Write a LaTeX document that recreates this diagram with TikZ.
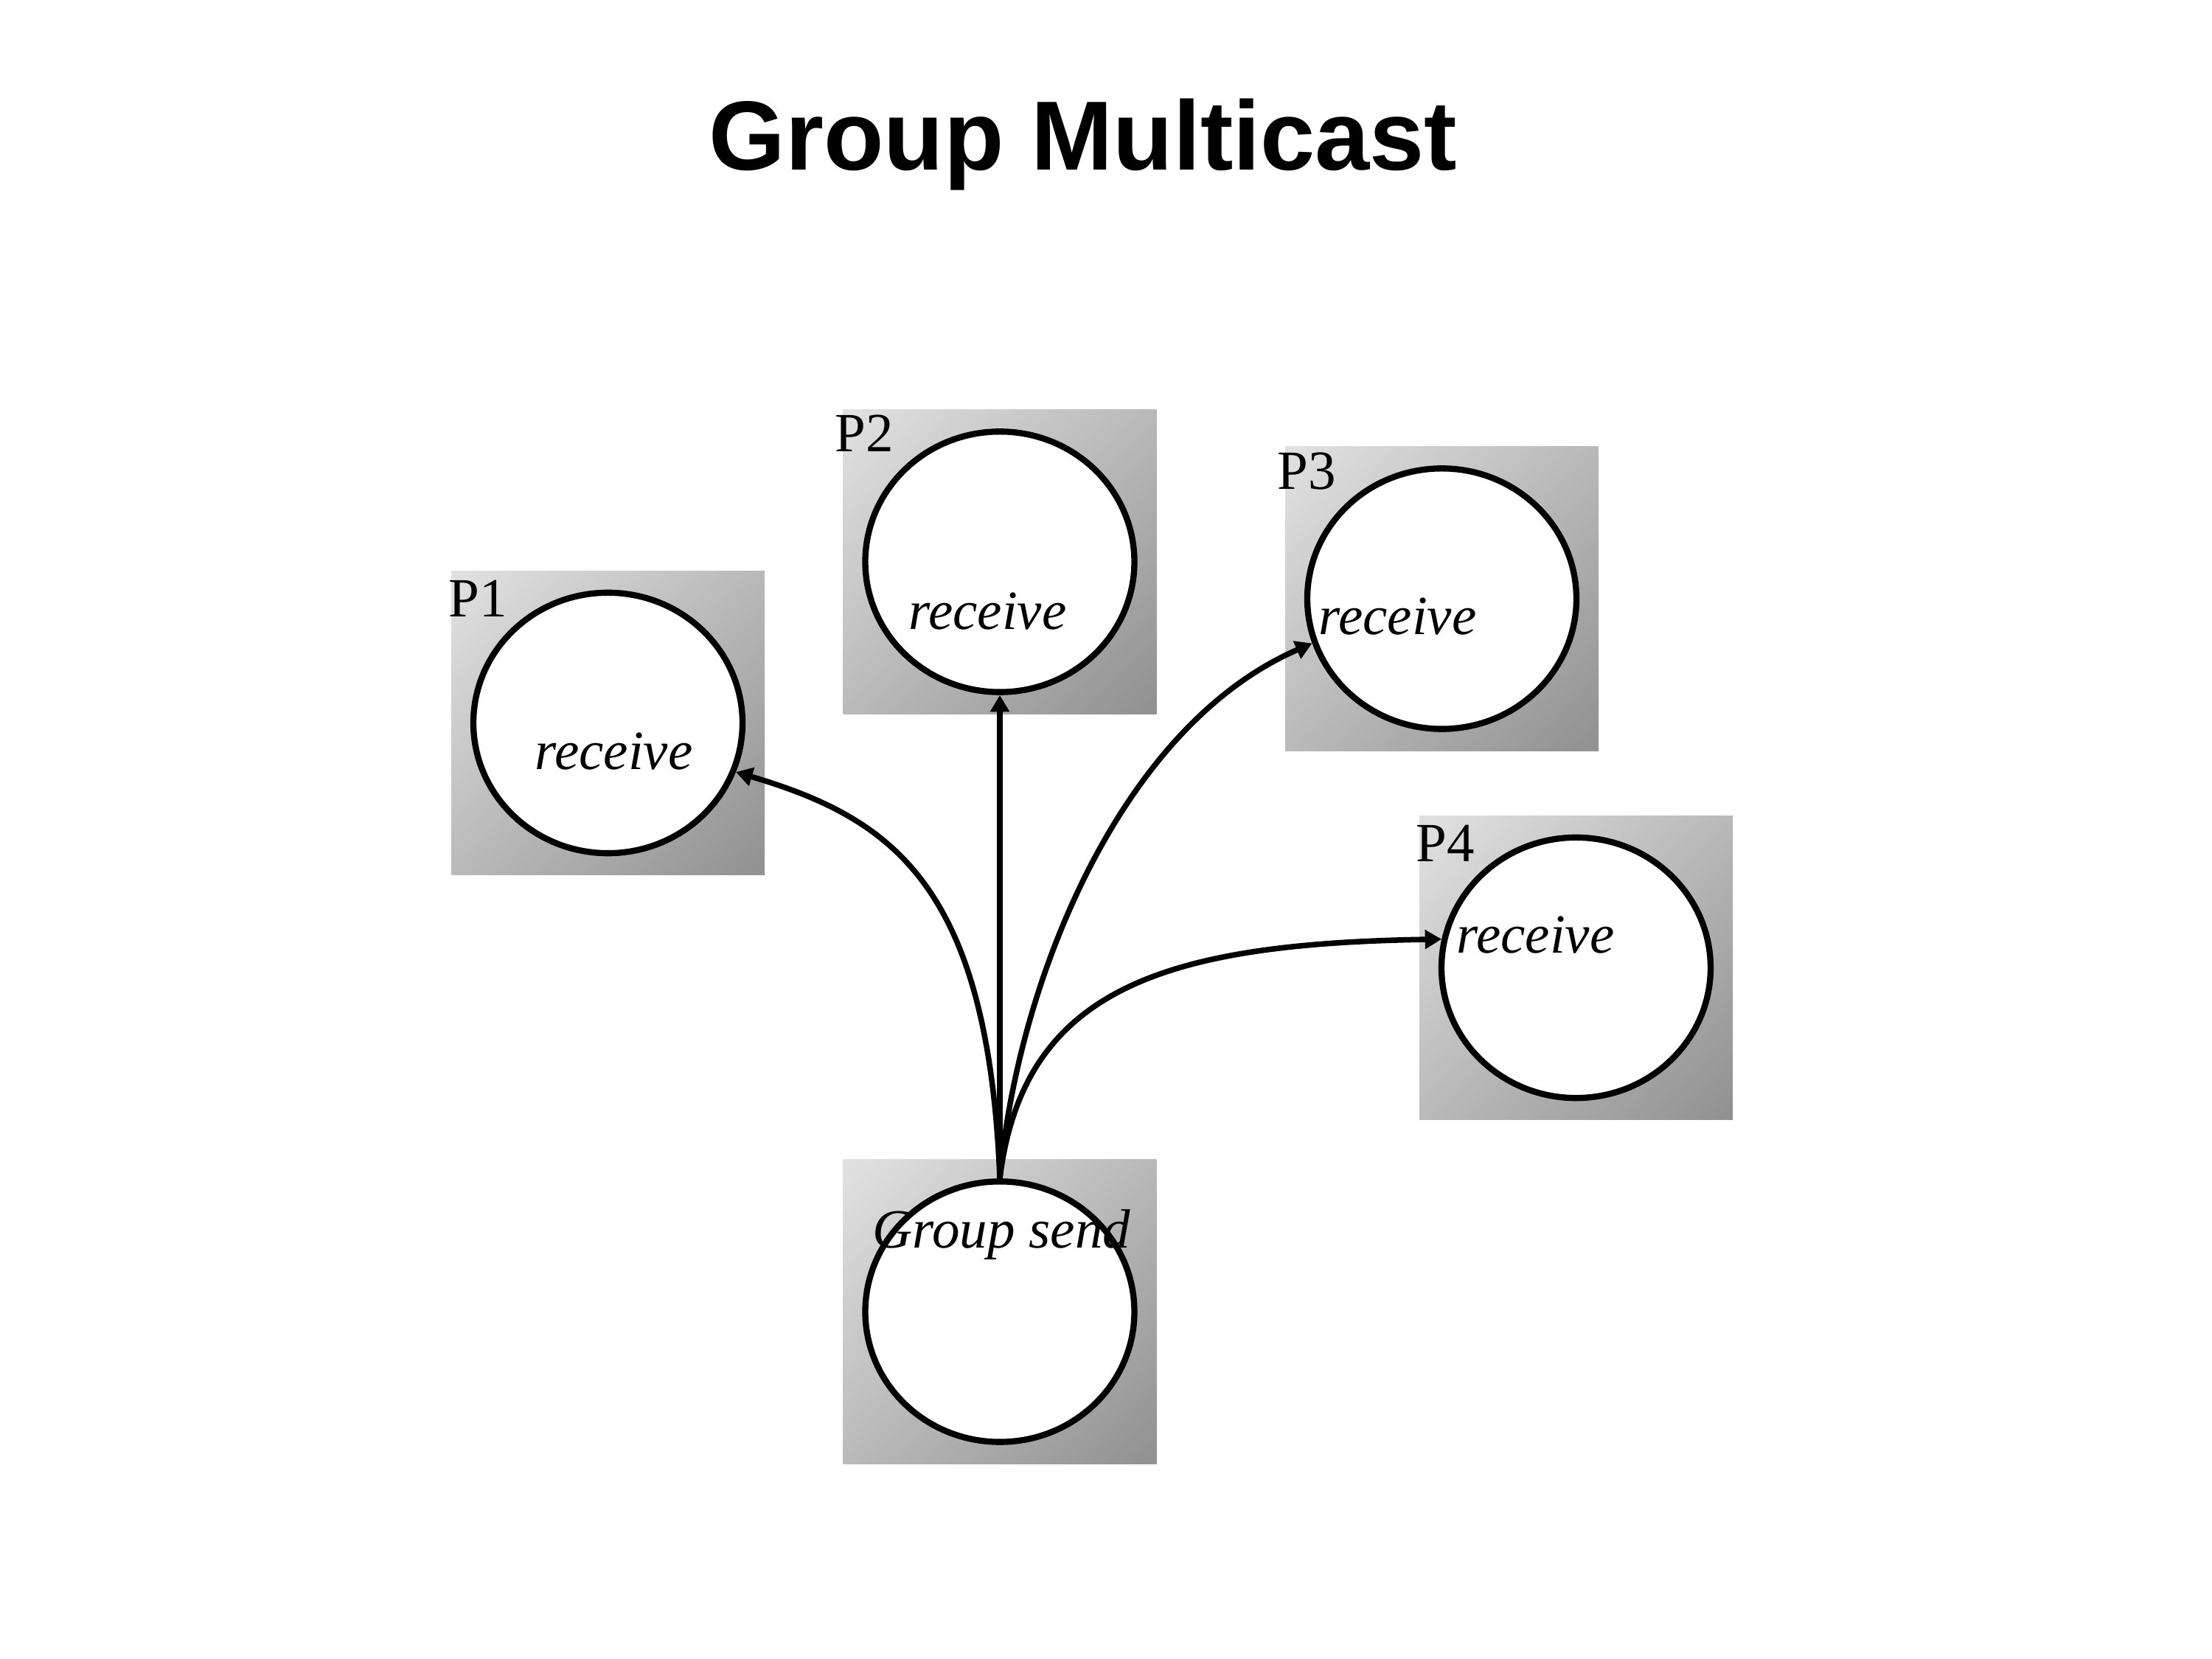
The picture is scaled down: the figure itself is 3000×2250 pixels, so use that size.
\documentclass[tikz,border=0pt]{standalone}
\usepackage{fontspec}
\setmainfont{Liberation Serif}
\newfontfamily\titlefont{Liberation Sans}
\usetikzlibrary{shapes.geometric,arrows.meta}
\definecolor{boxlight}{RGB}{224,224,224}
\definecolor{boxdark}{RGB}{146,146,146}
\pgfdeclareverticalshading{boxshade}{100bp}{color(0bp)=(boxdark); color(16bp)=(boxdark); color(84bp)=(boxlight); color(100bp)=(boxlight)}
\begin{document}
\begin{tikzpicture}[x=0.24pt,y=-0.24pt,
  procbox/.style={rectangle, shade, shading=boxshade, shading angle=45, draw=none,
    minimum width=102pt, minimum height=98.9pt, inner sep=0pt, outer sep=0pt},
  proc/.style={ellipse, draw, line width=2pt, fill=white,
    minimum width=87.6pt, minimum height=84.8pt, inner sep=0pt},
  plabel/.style={anchor=base west, inner sep=0pt, font=\fontsize{18pt}{21pt}\selectfont},
  ilabel/.style={anchor=base west, inner sep=0pt, font=\fontsize{18pt}{21pt}\selectfont\itshape},
  msg/.style={line width=1.8pt, -{Triangle[length=5.4pt,width=6pt]}}]
\useasboundingbox (0,0) rectangle (3000,2250);
\node[anchor=base, inner sep=0pt, font=\titlefont\bfseries\fontsize{32pt}{38pt}\selectfont] (title) at (1469,231) {Group Multicast};
% boxes
\node[procbox] (b1) at (824.5,980.5) {};
\node[procbox] (b2) at (1356,762) {};
\node[procbox] (b3) at (1955.5,812) {};
\node[procbox] (b4) at (2137.5,1312.5) {};
\node[procbox] (bs) at (1356,1779) {};
% circles
\node[proc] (p1c) at (b1.center) {};
\node[proc] (p2c) at (b2.center) {};
\node[proc] (p3c) at (b3.center) {};
\node[proc] (p4c) at (b4.center) {};
\node[proc] (s) at (bs.center) {};
% labels
\node[plabel] (l1) at (608,837) {P1};
\node[plabel] (l2) at (1132,613) {P2};
\node[plabel] (l3) at (1732,664) {P3};
\node[plabel] (l4) at (1920,1169) {P4};
\node[ilabel] (r1) at (725,1044) {receive};
\node[ilabel] (r2) at (1232,854) {receive};
\node[ilabel] (r3) at (1788,861) {receive};
\node[ilabel] (r4) at (1975,1293) {receive};
\node[ilabel] (gs) at (1183,1693) {Group send};
% connectors
\draw[msg] (s.north) .. controls (1340,1200) and (1210,1110) .. (p1c.-21);
\draw[msg] (s.north) -- (p2c.south);
\draw[msg] (s.north) .. controls (1380,1330) and (1520,985) .. (p3c.199.6);
\draw[msg] (s.north) .. controls (1388,1340) and (1580,1280) .. (p4c.168.4);
\end{tikzpicture}
\end{document}
